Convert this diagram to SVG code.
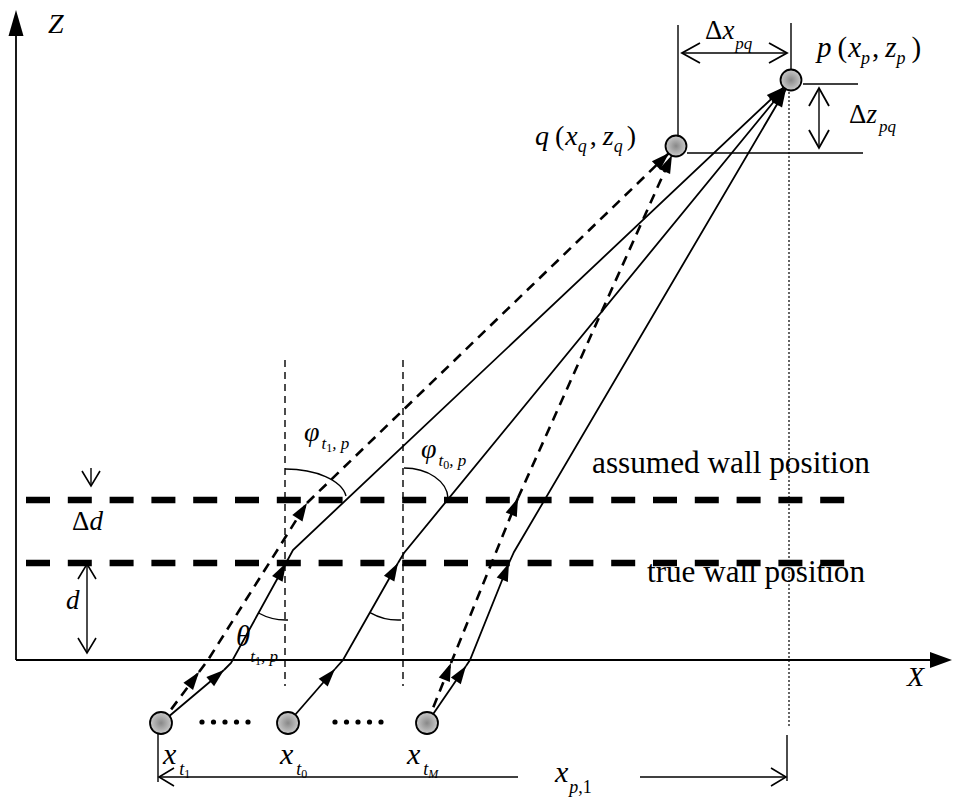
<svg xmlns="http://www.w3.org/2000/svg" width="954" height="799" viewBox="0 0 954 799">
<style>
text{font-family:"Liberation Serif","Times New Roman",serif;fill:#000}
.i{font-style:italic}
.n{font-style:normal}
.ln{stroke:#000;stroke-width:1.8;fill:none}
.dl{stroke:#000;stroke-width:2.6;fill:none;stroke-dasharray:10 7}
.thin{stroke:#000;stroke-width:1.4;fill:none}
.vd{stroke:#000;stroke-width:1.4;fill:none;stroke-dasharray:7 5}
.wall{stroke:#000;stroke-width:6.5;fill:none;stroke-dasharray:24 17.8}
.dot{stroke:#000;stroke-width:1.2;fill:none;stroke-dasharray:2 2}
.node{fill:url(#g);stroke:#000;stroke-width:1.8}
</style>
<defs>
<radialGradient id="g" cx="0.5" cy="0.5" r="0.6"><stop offset="0" stop-color="#888"/><stop offset="1" stop-color="#d8d8d8"/></radialGradient>
<marker id="ah" viewBox="-19 -7 20 14" refX="0" refY="0" markerWidth="20" markerHeight="14" markerUnits="userSpaceOnUse" orient="auto"><path d="M0,0 L-18,-6 L-18,6 z" fill="#000"/></marker>
<marker id="oa" viewBox="-22 -12 24 24" refX="0" refY="0" markerWidth="24" markerHeight="24" markerUnits="userSpaceOnUse" orient="auto-start-reverse"><path d="M-18,-10 L0,0 L-18,10" fill="none" stroke="#000" stroke-width="1.8"/></marker>
<marker id="os" viewBox="-22 -12 24 24" refX="0" refY="0" markerWidth="24" markerHeight="24" markerUnits="userSpaceOnUse" orient="auto-start-reverse"><path d="M-15,-9 L0,0 L-15,9" fill="none" stroke="#000" stroke-width="1.6"/></marker>
</defs>

<g id="axes">
<line class="ln" x1="16" y1="660" x2="16" y2="32"/>
<path d="M16,10 L8.5,36 L23.5,36 z" fill="#000"/>
<line class="ln" x1="16" y1="660" x2="934" y2="660"/>
<path d="M952,660 L930,652 L930,668 z" fill="#000"/>
<text class="i" x="48" y="33" font-size="28">Z</text>
<text class="i" x="907" y="686" font-size="28">X</text>
</g>

<g id="walls">
<line class="wall" x1="26" y1="500" x2="846" y2="500"/>
<line class="wall" x1="26" y1="563" x2="846" y2="563"/>
<text x="592" y="473" font-size="31" textLength="278" lengthAdjust="spacingAndGlyphs">assumed wall position</text>
<text x="647" y="582" font-size="31" textLength="218" lengthAdjust="spacingAndGlyphs">true wall position</text>
</g>

<g id="guides">
<line class="vd" x1="285" y1="360" x2="285" y2="686"/>
<line class="vd" x1="403" y1="360" x2="403" y2="686"/>
<line class="dot" x1="789" y1="92" x2="789" y2="727"/>
</g>

<g id="dimensions">
<line class="thin" x1="91" y1="468" x2="91" y2="486" marker-end="url(#os)"/>
<line class="thin" x1="87" y1="564" x2="87" y2="653" marker-start="url(#os)" marker-end="url(#os)"/>
<text x="72" y="530" font-size="27">Δ<tspan class="i">d</tspan></text>
<text class="i" x="66" y="609" font-size="27">d</text>

<line class="thin" x1="678" y1="25" x2="678" y2="140"/>
<line class="thin" x1="791" y1="23" x2="791" y2="70"/>
<line class="thin" x1="682" y1="53" x2="787" y2="53" marker-start="url(#oa)" marker-end="url(#oa)"/>
<line class="thin" x1="803" y1="84" x2="858" y2="84"/>
<line class="thin" x1="687" y1="153" x2="863" y2="153"/>
<line class="thin" x1="819" y1="88" x2="819" y2="148" marker-start="url(#oa)" marker-end="url(#oa)"/>
<text x="705" y="39" font-size="27">Δ<tspan class="i">x</tspan><tspan class="i" dx="1" dy="10" font-size="17">pq</tspan></text>
<text x="849" y="123" font-size="27">Δ<tspan class="i">z</tspan><tspan class="i" dx="2" dy="9" font-size="17">pq</tspan></text>

<line class="thin" x1="158" y1="733" x2="158" y2="782"/>
<line class="thin" x1="787" y1="735" x2="787" y2="781"/>
<line class="thin" x1="159" y1="777" x2="518" y2="777" marker-start="url(#os)"/>
<line class="thin" x1="640" y1="777" x2="786" y2="777" marker-end="url(#os)"/>
<text class="i" x="555" y="782" font-size="30">x<tspan dx="1" dy="11" font-size="18">p</tspan><tspan class="n" font-size="18">,1</tspan></text>
</g>

<g id="connectors">
<!-- t1 solid -->
<path class="ln" d="M161,723 L224,670" marker-end="url(#ah)"/>
<path class="ln" d="M224,670 L231,663 L286,563" marker-end="url(#ah)"/>
<path class="ln" d="M286,563 L293,550 L784,87" marker-end="url(#ah)"/>
<!-- t0 solid -->
<path class="ln" d="M288,723 L335,669" marker-end="url(#ah)"/>
<path class="ln" d="M335,669 L343,660 L398,563" marker-end="url(#ah)"/>
<path class="ln" d="M398,563 L404,553 L785,88" marker-end="url(#ah)"/>
<!-- tM solid -->
<path class="ln" d="M427,723 L466,666" marker-end="url(#ah)"/>
<path class="ln" d="M466,666 L470,660 L509,563" marker-end="url(#ah)"/>
<path class="ln" d="M509,563 L514,552 L786,89" marker-end="url(#ah)"/>
<!-- t1 dashed -->
<path class="dl" d="M161,723 L199,672" marker-end="url(#ah)"/>
<path class="dl" d="M199,672 L208,660 L307,503" marker-end="url(#ah)"/>
<path class="dl" d="M307,503 L669,153" marker-end="url(#ah)"/>
<!-- tM dashed -->
<path class="dl" d="M427,723 L451,663" marker-end="url(#ah)"/>
<path class="dl" d="M451,663 L518,498" marker-end="url(#ah)"/>
<path class="dl" d="M518,498 L672,155" marker-end="url(#ah)"/>
<!-- angle arcs -->
<path class="thin" d="M258.5,613 A57,57 0 0,0 288,620"/>
<path class="thin" d="M370,612.6 A57,57 0 0,0 401,620"/>
<path class="thin" d="M285,469 A61,31 0 0,1 346,496"/>
<path class="thin" d="M404,468 A44,31 0 0,1 448,498"/>
</g>

<g id="angle-labels">
<text class="i" x="236" y="646" font-size="29">θ<tspan dx="0" dy="16" font-size="17">t</tspan><tspan class="n" dy="3" font-size="12">1</tspan><tspan dy="-3" font-size="17">, p</tspan></text>
<text class="i" x="304" y="441" font-size="28">φ<tspan dx="2" dy="8" font-size="17">t</tspan><tspan class="n" dy="3" font-size="12">1</tspan><tspan dy="-3" font-size="17">, p</tspan></text>
<text class="i" x="421" y="458" font-size="28">φ<tspan dx="2" dy="8" font-size="17">t</tspan><tspan class="n" dy="3" font-size="12">0</tspan><tspan dy="-3" font-size="17">, p</tspan></text>
</g>

<g id="node-p">
<circle class="node" cx="791" cy="80" r="10.5"/>
<text x="817" y="57" font-size="29"><tspan class="i">p</tspan><tspan dx="6">(</tspan><tspan class="i" dx="1">x</tspan><tspan class="i" dy="7" font-size="18">p</tspan><tspan dx="2" dy="-7">,</tspan><tspan class="i" dx="6">z</tspan><tspan class="i" dy="7" font-size="18">p</tspan><tspan dx="6" dy="-7">)</tspan></text>
</g>
<g id="node-q">
<circle class="node" cx="676" cy="146" r="10.5"/>
<text x="535" y="145" font-size="28"><tspan class="i">q</tspan><tspan dx="6">(</tspan><tspan class="i" dx="1">x</tspan><tspan class="i" dy="7" font-size="18">q</tspan><tspan dx="3" dy="-7">,</tspan><tspan class="i" dx="6">z</tspan><tspan class="i" dy="7" font-size="18">q</tspan><tspan dx="4" dy="-7">)</tspan></text>
</g>
<g id="node-t1">
<circle class="node" cx="161" cy="723" r="11"/>
<text class="i" x="163" y="764" font-size="30">x<tspan dx="3" dy="11" font-size="18">t</tspan><tspan class="n" dy="3" font-size="12">1</tspan></text>
</g>
<g id="node-t0">
<circle class="node" cx="288" cy="723" r="11"/>
<text class="i" x="280" y="764" font-size="30">x<tspan dx="3" dy="11" font-size="18">t</tspan><tspan class="n" dy="3" font-size="12">0</tspan></text>
</g>
<g id="node-tM">
<circle class="node" cx="427" cy="723" r="11"/>
<text class="i" x="407" y="764" font-size="30">x<tspan dx="3" dy="11" font-size="18">t</tspan><tspan dy="3" font-size="12">M</tspan></text>
</g>
<g id="ellipsis">
<circle cx="202" cy="722" r="2.6"/><circle cx="213.5" cy="722" r="2.6"/><circle cx="225" cy="722" r="2.6"/><circle cx="236.5" cy="722" r="2.6"/><circle cx="248" cy="722" r="2.6"/>
<circle cx="335" cy="722" r="2.6"/><circle cx="346.5" cy="722" r="2.6"/><circle cx="358" cy="722" r="2.6"/><circle cx="369.5" cy="722" r="2.6"/><circle cx="381" cy="722" r="2.6"/>
</g>
</svg>
